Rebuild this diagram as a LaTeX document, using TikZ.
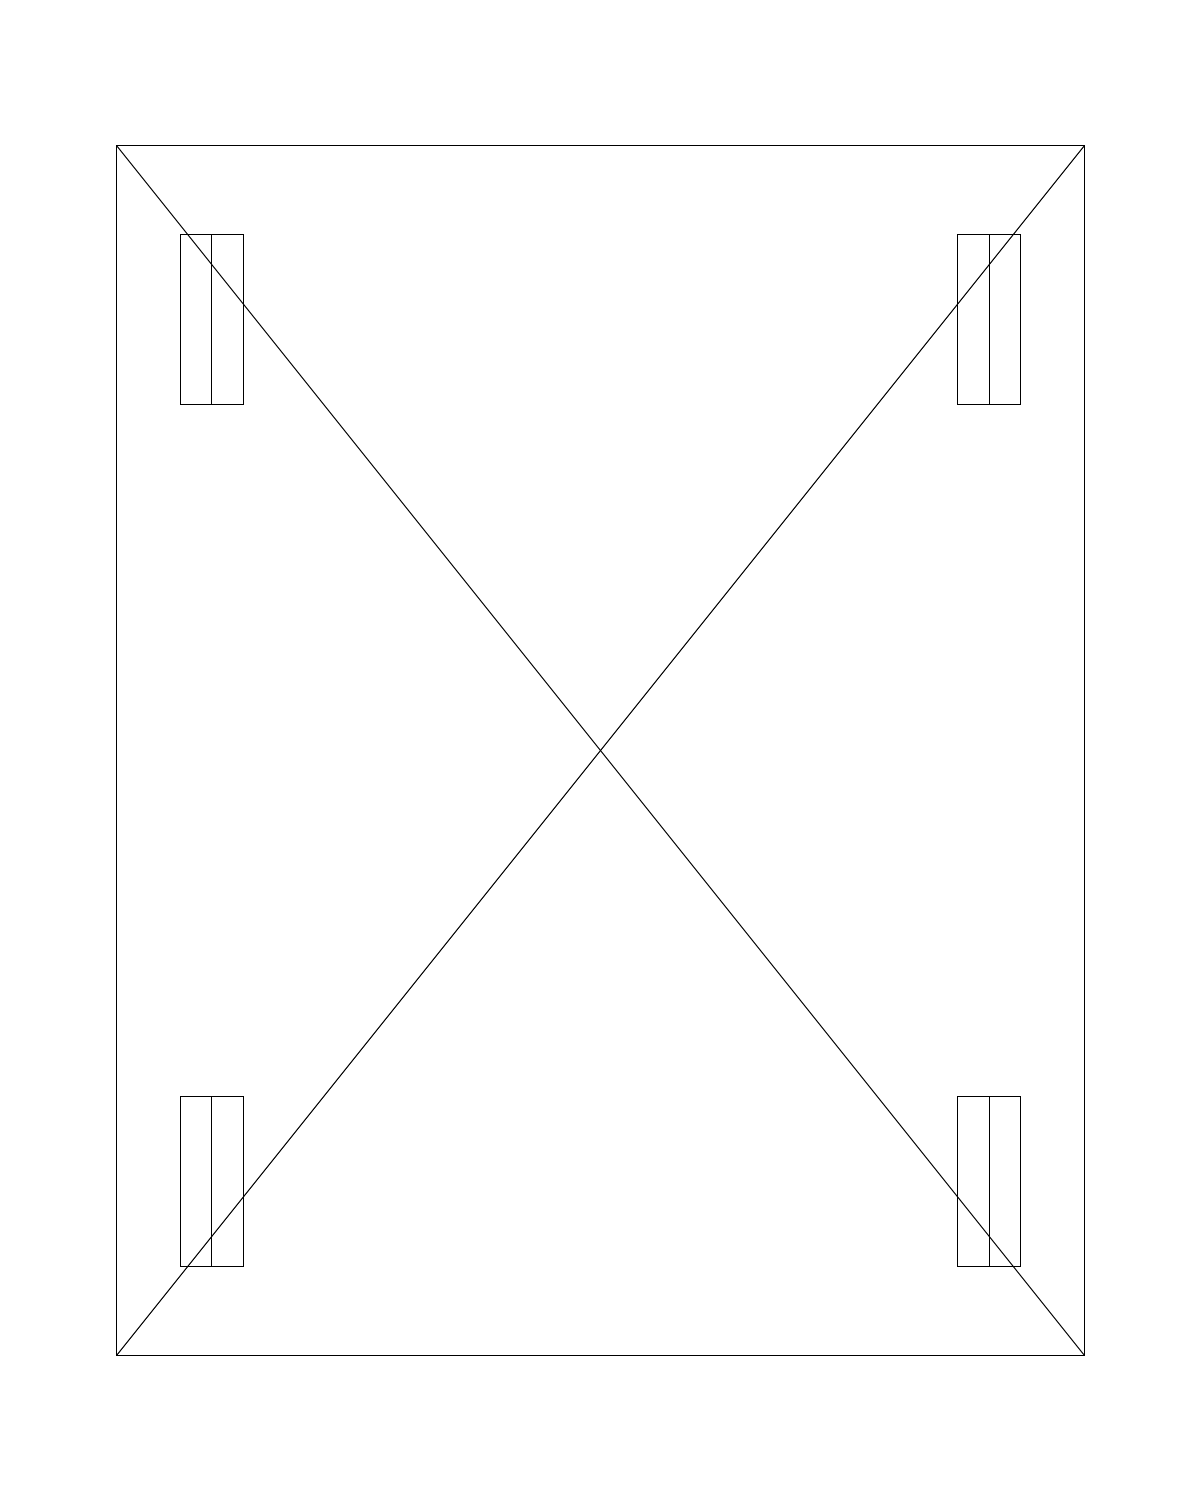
\documentclass[tikz,border=0pt]{standalone}
\begin{document}
\begin{tikzpicture}[x=0.01cm,y=-0.01cm,line width=0.285pt,
  leg/.style={draw,black}]
\useasboundingbox (0,0) rectangle (1200,1500);
\coordinate (tl) at (116.5,145.5);
\coordinate (tr) at (1084.5,145.5);
\coordinate (bl) at (116.5,1355.5);
\coordinate (br) at (1084.5,1355.5);
\draw (tl) rectangle (br);
\draw (tl) -- (br);
\draw (tr) -- (bl);
% leg blocks
\foreach \x/\m in {180.5/211.5,957.5/989.5}{
  \foreach \y in {234.5,1096.5}{
    \draw[leg] (\x,\y) rectangle (\x+63,\y+170);
    \draw[leg] (\m,\y) -- (\m,\y+170);
  }
}
\end{tikzpicture}
\end{document}
